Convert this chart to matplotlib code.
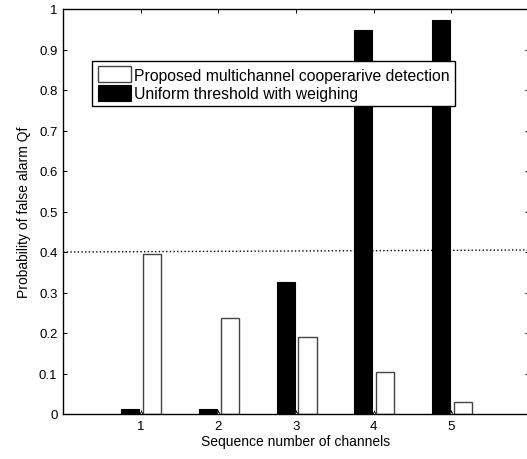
import numpy as np
import matplotlib
matplotlib.use("Agg")
import matplotlib.pyplot as plt

plt.rcParams['font.family'] = ['Liberation Sans', 'DejaVu Sans']

channels = [1, 2, 3, 4, 5]
qf_proposed = [0.394, 0.237, 0.190, 0.103, 0.030]
qf_uniform = [0.012, 0.012, 0.326, 0.947, 0.974]
qf_middle = [0.004, 0.004, 0.004, 0.004, 0.004]
threshold_ends = [0.400, 0.405]

labels = ['Proposed multichannel cooperarive detection',
          'Uniform threshold with weighing']

x = np.array(channels)
fig = plt.figure(figsize=(5.27, 4.60), dpi=100)
ax = fig.add_axes([63 / 527, 45 / 460, 466 / 527, 405 / 460])

w = 0.232
hb = ax.bar(x - 0.135, qf_uniform, width=w, color='black', edgecolor='black', linewidth=0.8, zorder=2)
ax.bar(x + 0.0, qf_middle, width=0.03, color='white', edgecolor='#333333', linewidth=0.7, zorder=2)
hw = ax.bar(x + 0.148, qf_proposed, width=w, color='white', edgecolor='#444444', linewidth=1.0, zorder=2)

# threshold reference line
ax.plot([0, 6], threshold_ends, color='black', linestyle=':', linewidth=1.0, zorder=3)

ax.set_xlim(0, 6)
ax.set_ylim(0, 1)
ax.set_xticks(channels)
ax.set_yticks(np.round(np.arange(0, 1.01, 0.1), 1))
ax.set_yticklabels(['0', '0.1', '0.2', '0.3', '0.4', '0.5', '0.6', '0.7', '0.8', '0.9', '1'])
ax.tick_params(direction='in', length=3, top=True, right=True, labelsize=9.5, width=0.7, pad=4)
for s in ax.spines.values():
    s.set_linewidth(1.0)

ax.set_xlabel('Sequence number of channels', fontsize=10, labelpad=2)
ax.set_ylabel('Probability of false alarm Qf', fontsize=10, labelpad=6)

leg = ax.legend([hw, hb], labels, loc='upper left', bbox_to_anchor=(0.063, 0.872),
                fontsize=11.3, frameon=True, fancybox=False, edgecolor='black',
                framealpha=1, borderpad=0.35, handlelength=2.1, handleheight=1.2,
                handletextpad=0.2, labelspacing=0.12, borderaxespad=0)
leg.get_frame().set_linewidth(1.0)
leg.set_zorder(5)

fig.savefig('out.png', dpi=100)
